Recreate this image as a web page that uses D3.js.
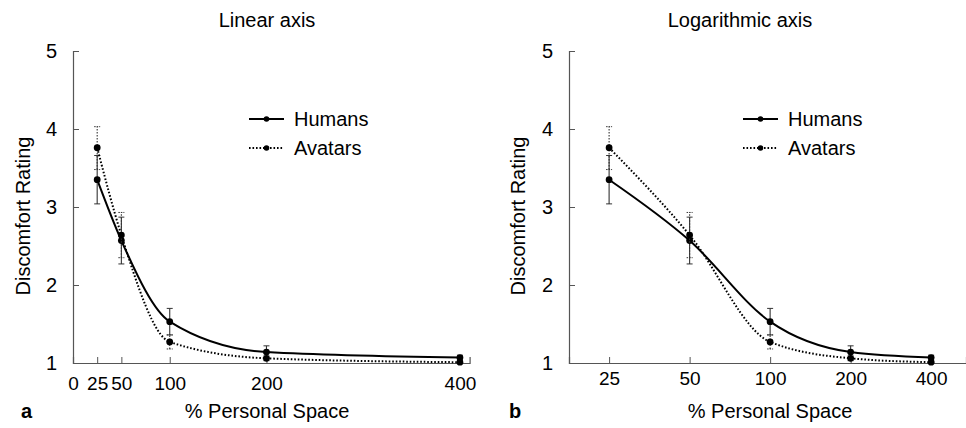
<!DOCTYPE html>
<html>
<head>
<meta charset="utf-8">
<script src="https://cdn.jsdelivr.net/npm/d3@7/dist/d3.min.js"></script>
<style>
  html, body { margin: 0; padding: 0; background: #fff; }
  svg { display: block; font-family: "Liberation Sans", Arial, Helvetica, sans-serif; }
</style>
</head>
<body>
<svg id="chart" width="966" height="428"></svg>
<script>
// Personal-space conditions (% of personal space)
const spaces = [25, 50, 100, 200, 400];

// Mean discomfort ratings and error-bar limits
const humansMean = [3.35, 2.57, 1.53, 1.14, 1.07];
const humansLow  = [3.04, 2.27, 1.36, 1.07, 1.04];
const humansHigh = [3.66, 2.87, 1.70, 1.22, 1.10];

const avatarsMean = [3.76, 2.64, 1.27, 1.06, 1.01];
const avatarsLow  = [3.48, 2.35, 1.18, 1.03, 1.00];
const avatarsHigh = [4.03, 2.93, 1.36, 1.09, 1.02];

const yTicks = [1, 2, 3, 4, 5];
const linearTicks = [0, 25, 50, 100, 200, 400];
const logTicks = [25, 50, 100, 200, 400];

const seriesNames = ["Humans", "Avatars"];

const series = [
  { name: seriesNames[0], mean: humansMean, low: humansLow, high: humansHigh, dash: null },
  { name: seriesNames[1], mean: avatarsMean, low: avatarsLow, high: avatarsHigh, dash: "1.6,1.9" }
];

const svg = d3.select("#chart");

function panel(opts) {
  const g = svg.append("g");
  const x = opts.x;
  const y = d3.scaleLinear().domain([1, 5]).range([363, 51]);
  const x0 = x.range()[0];
  const axisColor = "#555";

  // Panel title
  g.append("text")
    .attr("x", opts.titleX).attr("y", 27)
    .attr("text-anchor", "middle")
    .attr("font-size", 20)
    .text(opts.title);

  // Y axis (ticks point inward)
  const yAxis = g.append("g")
    .attr("transform", `translate(${x0},0)`)
    .call(d3.axisLeft(y).tickValues(yTicks).tickSize(-6).tickPadding(11).tickFormat(d3.format("d")));
  yAxis.select(".domain").attr("stroke", axisColor).attr("stroke-width", 1.2);
  yAxis.selectAll(".tick line").attr("stroke", axisColor).attr("stroke-width", 1);
  yAxis.selectAll(".tick text")
    .attr("font-size", 20).attr("fill", "#000")
    .attr("font-family", "Liberation Sans, Arial, sans-serif")
    .attr("x", -16);

  // X axis (ticks point inward)
  const xAxis = g.append("g")
    .attr("transform", `translate(0,${y(1)})`)
    .call(d3.axisBottom(x).tickValues(opts.ticks).tickSize(-6).tickPadding(0).tickFormat(d3.format("d")));
  xAxis.select(".domain").attr("stroke", axisColor).attr("stroke-width", 1.2);
  xAxis.selectAll(".tick line").attr("stroke", axisColor).attr("stroke-width", 1);
  xAxis.selectAll(".tick text")
    .attr("font-size", 19).attr("fill", "#000")
    .attr("font-family", "Liberation Sans, Arial, sans-serif")
    .attr("y", opts.tickLabelY).attr("dy", null);

  // Axis titles
  g.append("text")
    .attr("x", opts.xTitleX).attr("y", 418)
    .attr("text-anchor", "middle").attr("font-size", 20)
    .text("% Personal Space");
  g.append("text")
    .attr("transform", `translate(${opts.yTitleX},216) rotate(-90)`)
    .attr("text-anchor", "middle").attr("font-size", 20)
    .text("Discomfort Rating");

  // Panel letter
  g.append("text")
    .attr("x", opts.letterX).attr("y", 418)
    .attr("font-size", 20).attr("font-weight", "bold")
    .text(opts.letter);

  // Smooth curves through the means
  const line = d3.line()
    .x(d => x(d[0])).y(d => y(d[1]))
    .curve(d3.curveMonotoneX);

  series.forEach(s => {
    const pts = spaces.map((v, i) => [v, s.mean[i]]);
    g.append("path")
      .datum(pts)
      .attr("d", line)
      .attr("fill", "none")
      .attr("stroke", "#000")
      .attr("stroke-width", 2)
      .attr("stroke-dasharray", s.dash);

    // Error bars
    const eb = g.append("g");
    spaces.forEach((v, i) => {
      const cx = x(v);
      eb.append("line")
        .attr("x1", cx).attr("x2", cx)
        .attr("y1", y(s.low[i])).attr("y2", y(s.high[i]))
        .attr("stroke", "#333").attr("stroke-width", 1.1)
        .attr("stroke-dasharray", s.dash ? "1.5,1.5" : null);
      [s.low[i], s.high[i]].forEach(val => {
        eb.append("line")
          .attr("x1", cx - 3).attr("x2", cx + 3)
          .attr("y1", y(val)).attr("y2", y(val))
          .attr("stroke", "#333").attr("stroke-width", 1)
          .attr("stroke-dasharray", s.dash ? "1.5,1" : null);
      });
    });

    // Markers
    g.selectAll(null)
      .data(pts)
      .enter().append("circle")
      .attr("cx", d => x(d[0])).attr("cy", d => y(d[1]))
      .attr("r", 3.4)
      .attr("fill", "#000");
  });

  // Legend
  const lg = g.append("g");
  series.forEach((s, i) => {
    const ly = 119 + i * 29;
    lg.append("line")
      .attr("x1", opts.legendX).attr("x2", opts.legendX + 35)
      .attr("y1", ly).attr("y2", ly)
      .attr("stroke", "#000").attr("stroke-width", 2)
      .attr("stroke-dasharray", s.dash);
    lg.append("circle")
      .attr("cx", opts.legendX + 17.5).attr("cy", ly).attr("r", 2.8).attr("fill", "#000");
    lg.append("text")
      .attr("x", opts.legendX + 45).attr("y", ly + 7)
      .attr("font-size", 20)
      .text(s.name);
  });
}

// Panel a: linear x axis
panel({
  x: d3.scaleLinear().domain([0, 410]).range([73, 469.6]),
  ticks: linearTicks,
  title: "Linear axis",
  titleX: 267,
  xTitleX: 267,
  yTitleX: 30,
  letter: "a",
  letterX: 21,
  tickLabelY: 27,
  legendX: 249
});

// Panel b: logarithmic x axis
panel({
  x: d3.scaleLog().domain([17.7, 540]).range([569, 966]),
  ticks: logTicks,
  title: "Logarithmic axis",
  titleX: 740,
  xTitleX: 770,
  yTitleX: 525,
  letter: "b",
  letterX: 509,
  tickLabelY: 22,
  legendX: 743
});
</script>
</body>
</html>
